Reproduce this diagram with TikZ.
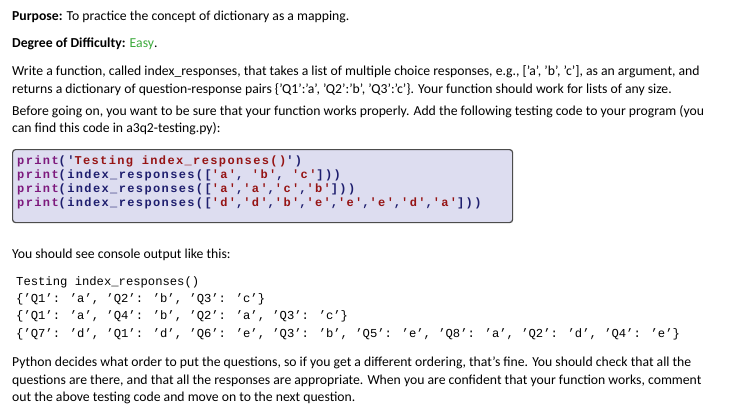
\documentclass[tikz,border=0pt]{standalone}
\usepackage{fontspec}
\setmainfont{Carlito}
\newfontfamily\codefont{Liberation Mono}
\newfontfamily\codesp[LetterSpace=11.5]{Liberation Mono}
\definecolor{boxfill}{RGB}{221,221,240}
\definecolor{easygreen}{RGB}{60,170,60}
\definecolor{kw}{RGB}{125,25,125}
\definecolor{strc}{RGB}{150,20,20}
\definecolor{codeblue}{RGB}{30,30,110}
\begin{document}
\begin{tikzpicture}[x=1pt,y=-1pt,
  txt/.style={anchor=base west,inner sep=0pt,font=\fontsize{13.7}{14}\selectfont},
  code/.style={anchor=base west,inner sep=0pt,font=\codesp\bfseries\fontsize{12}{14}\selectfont,text=codeblue},
  outline/.style={anchor=base west,inner sep=0pt,font=\codefont\fontsize{12.2}{14}\selectfont}]
\useasboundingbox[fill=white] (0,0) rectangle (736,412);
\node[txt] (p) at (12,21) {\textbf{Purpose:} To practice the concept of dictionary as a mapping.};
\node[txt] (d) at (12,48) {\textbf{Degree of Difficulty:} \textcolor{easygreen}{Easy}.};
\node[txt] (w1) at (12,76) {Write a function, called index\_responses, that takes a list of multiple choice responses, e.g., [’a’, ’b’, ’c’], as an argument, and};
\node[txt] (w2) at (12,93) {returns a dictionary of question-response pairs \{’Q1’:’a’, ’Q2’:’b’, ’Q3’:’c’\}. Your function should work for lists of any size.};
\node[txt] (b1) at (12,115) {Before going on, you want to be sure that your function works properly. Add the following testing code to your program (you};
\node[txt] (b2) at (12,132) {can find this code in a3q2-testing.py):};
\node[draw=black!70,line width=1.2pt,fill=boxfill,rounded corners=3pt,minimum width=500pt,minimum height=73pt,anchor=north west,inner sep=0pt] (box) at (12,149) {};
\node[code] (c1) at (17,164) {\textcolor{kw}{print}('\textcolor{strc}{Testing index\_responses()}')};
\node[code] (c2) at (17,178) {\textcolor{kw}{print}(index\_responses([\textcolor{strc}{'a'}, \textcolor{strc}{'b'}, \textcolor{strc}{'c'}]))};
\node[code] (c3) at (17,192) {\textcolor{kw}{print}(index\_responses([\textcolor{strc}{'a'},\textcolor{strc}{'a'},\textcolor{strc}{'c'},\textcolor{strc}{'b'}]))};
\node[code] (c4) at (17,206) {\textcolor{kw}{print}(index\_responses([\textcolor{strc}{'d'},\textcolor{strc}{'d'},\textcolor{strc}{'b'},\textcolor{strc}{'e'},\textcolor{strc}{'e'},\textcolor{strc}{'e'},\textcolor{strc}{'d'},\textcolor{strc}{'a'}]))};
\node[txt] (y) at (12,258) {You should see console output like this:};
\node[outline] (o1) at (16,285) {Testing index\_responses()};
\node[outline] (o2) at (16,302) {\{’Q1’: ’a’, ’Q2’: ’b’, ’Q3’: ’c’\}};
\node[outline] (o3) at (16,319) {\{’Q1’: ’a’, ’Q4’: ’b’, ’Q2’: ’a’, ’Q3’: ’c’\}};
\node[outline] (o4) at (16,337) {\{’Q7’: ’d’, ’Q1’: ’d’, ’Q6’: ’e’, ’Q3’: ’b’, ’Q5’: ’e’, ’Q8’: ’a’, ’Q2’: ’d’, ’Q4’: ’e’\}};
\node[txt] (e1) at (12,366) {Python decides what order to put the questions, so if you get a different ordering, that’s fine. You should check that all the};
\node[txt] (e2) at (12,384) {questions are there, and that all the responses are appropriate. When you are confident that your function works, comment};
\node[txt] (e3) at (12,401) {out the above testing code and move on to the next question.};
\end{tikzpicture}
\end{document}
